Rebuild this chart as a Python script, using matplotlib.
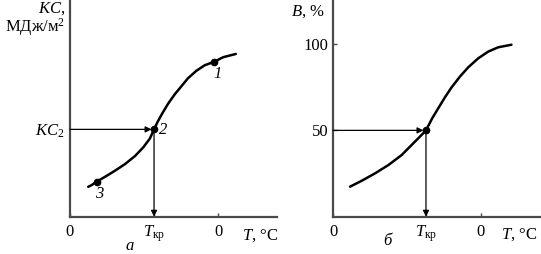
import matplotlib
matplotlib.use("Agg")
import matplotlib.pyplot as plt

# Estilo tipográfico tipo libro (serif)
plt.rcParams["font.family"] = ["Liberation Serif", "DejaVu Serif"]
plt.rcParams["mathtext.fontset"] = "custom"
plt.rcParams["mathtext.rm"] = "Liberation Serif"
plt.rcParams["mathtext.it"] = "Liberation Serif:italic"
plt.rcParams["font.size"] = 12

# -----------------------------------------------------------------------------
# Datos
# -----------------------------------------------------------------------------
# Panel a: KC vs T
t_a = [8.8, 10.5, 12.9, 16.9, 21.7, 26.6, 31.4, 35.4, 38.6, 40.6, 42.4, 44.6,
       47.5, 50.7, 53.9, 57.0, 61.0, 65.1, 69.7, 74.0, 80.1]
kc_a = [13.8, 14.6, 16.2, 18.4, 21.2, 24.3, 28.0, 32.0, 36.1, 40.3, 43.9, 47.7,
        52.3, 56.6, 60.3, 63.9, 67.3, 69.9, 71.5, 73.6, 75.1]
puntos_t = [69.7, 40.6, 12.9]
puntos_kc = [71.5, 40.3, 16.2]
puntos_lbl = ["1", "2", "3"]
t_kr_a = 40.6
kc2 = 40.3
t_cero_a = 71.5

# Panel б: B (%) vs T
t_b = [8.2, 13.8, 20.2, 26.6, 33.0, 38.6, 42.3, 44.7, 47.7, 50.6, 53.8, 57.0,
       61.0, 65.0, 69.8, 74.6, 79.4, 85.8]
b_b = [17.4, 20.8, 25.1, 29.9, 35.7, 42.5, 47.0, 50.0, 57.0, 62.8, 69.1, 74.9,
       81.1, 86.5, 91.7, 95.6, 98.1, 99.6]
t_kr_b = 44.7
b_50 = 50
b_ticks = [50, 100]
t_cero_b = 71.0

COLOR_EJE = "#4a4a4a"
W, H = 541, 254

fig = plt.figure(figsize=(W / 100, H / 100), dpi=100)
ax_a = fig.add_axes([70 / W, 1 - 216.7 / H, 207 / W, 216.7 / H])
ax_b = fig.add_axes([333 / W, 1 - 216.7 / H, 208 / W, 216.7 / H])


def estilo_ejes(ax, ymax):
    ax.set_xlim(0, 100)
    ax.set_ylim(0, ymax)
    for s in ["top", "right"]:
        ax.spines[s].set_visible(False)
    for s in ["left", "bottom"]:
        ax.spines[s].set_color(COLOR_EJE)
        ax.spines[s].set_linewidth(1.6)
    ax.tick_params(direction="in", length=3, width=1, color=COLOR_EJE,
                   labelsize=12, pad=5)
    ax.patch.set_alpha(0)


def flechas(ax, x0, y0):
    flecha = dict(arrowstyle="-|>", lw=0.9, color="black",
                  mutation_scale=9, shrinkA=0, shrinkB=0)
    ax.annotate("", xy=(x0 - 1.2, y0), xytext=(0, y0), arrowprops=flecha)
    ax.annotate("", xy=(x0, 0), xytext=(x0, y0), arrowprops=flecha)


# -----------------------------------------------------------------------------
# Panel a
# -----------------------------------------------------------------------------
estilo_ejes(ax_a, 100)
ax_a.plot(t_a, kc_a, color="black", lw=1.8, solid_capstyle="round",
          solid_joinstyle="round")
ax_a.plot(puntos_t, puntos_kc, "o", color="black", ms=4.5)
offsets = [(3, -12), (9, -1), (3, -12)]
for x, y, lbl, off in zip(puntos_t, puntos_kc, puntos_lbl, offsets):
    ax_a.annotate(lbl, (x, y), xytext=off, textcoords="offset pixels",
                  fontstyle="italic", fontsize=12, ha="center", va="center")
flechas(ax_a, t_kr_a, kc2)
ax_a.set_xticks([0, t_kr_a, t_cero_a])
ax_a.set_xticklabels(["0", r"$T_{\mathrm{кр}}$", "0"])
ax_a.set_yticks([kc2])
ax_a.set_yticklabels([r"$KC_{\mathrm{2}}$"])
ax_a.tick_params(axis="y", length=0, pad=4)
ax_a.text(83.0, -5.0, r"$T$, °C", ha="left", va="top", fontsize=12, clip_on=False)
ax_a.text(-2.3, 96.0, r"$KC$,", ha="right", va="center", fontsize=12, clip_on=False)
ax_a.text(-2.3, 87.3, "МДж/м$^2$", ha="right", va="center", fontsize=12, clip_on=False)
ax_a.text(29, -13.3, "а", ha="center", va="center", fontstyle="italic",
          fontsize=12, clip_on=False)

# -----------------------------------------------------------------------------
# Panel б
# -----------------------------------------------------------------------------
estilo_ejes(ax_b, 125.5)
ax_b.plot(t_b, b_b, color="black", lw=1.8, solid_capstyle="round",
          solid_joinstyle="round")
ax_b.plot([t_kr_b], [b_50], "o", color="black", ms=4.5)
flechas(ax_b, t_kr_b, b_50)
ax_b.set_xticks([0, t_kr_b, t_cero_b])
ax_b.set_xticklabels(["0", r"$T_{\mathrm{кр}}$", "0"])
ax_b.set_yticks(b_ticks)
ax_b.set_yticklabels([str(v) for v in b_ticks])
ax_b.tick_params(axis="y", pad=3)
ax_b.text(81.0, -5.8, r"$T$, °C", ha="left", va="top", fontsize=12, clip_on=False)
ax_b.text(-4.0, 118.5, r"$B$, %", ha="right", va="center", fontsize=12, clip_on=False)
ax_b.text(26, -14.0, "б", ha="center", va="center", fontstyle="italic",
          fontsize=12, clip_on=False)

plt.savefig("out.png", dpi=100)
